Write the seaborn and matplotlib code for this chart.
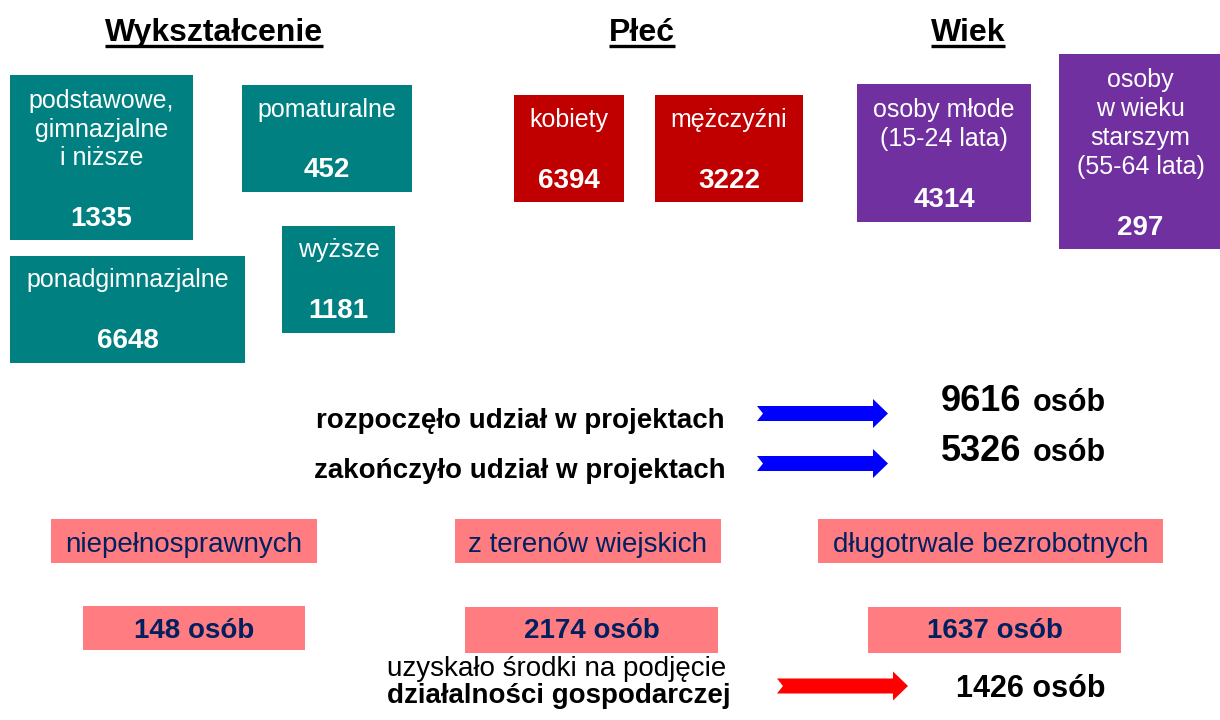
import matplotlib
matplotlib.use("Agg")
import matplotlib.pyplot as plt
import seaborn as sns
from matplotlib.patches import Rectangle, Polygon

# dane
edu_labels = [["podstawowe,", "gimnazjalne", "i niższe"], ["pomaturalne"],
              ["ponadgimnazjalne"], ["wyższe"]]
edu_values = [1335, 452, 6648, 1181]
sex_labels = [["kobiety"], ["mężczyźni"]]
sex_values = [6394, 3222]
age_labels = [["osoby młode", "(15-24 lata)"],
              ["osoby", "w wieku", "starszym", "(55-64 lata)"]]
age_values = [4314, 297]
group_labels = ["niepełnosprawnych", "z terenów wiejskich", "długotrwale bezrobotnych"]
group_values = [148, 2174, 1637]
flow_labels = ["rozpoczęło udział w projektach", "zakończyło udział w projektach"]
flow_values = [9616, 5326]
firm_value = 1426

sns.set_theme(style="white")
plt.rcParams['font.family'] = ['Liberation Sans', 'DejaVu Sans']

fig = plt.figure(figsize=(12.2, 7.2), dpi=100)
ax = fig.add_axes([0, 0, 1, 1])
ax.set_xlim(0, 1220)
ax.set_ylim(720, 0)
ax.axis("off")

TEAL, RED, PURPLE, PINK, NAVY = "#008080", "#C00000", "#7030A0", "#FF7C80", "#002060"

# nagłówki z podkreśleniem
titles = [("Wykształcenie", 214), ("Płeć", 642), ("Wiek", 968)]
fig.canvas.draw()
rend = fig.canvas.get_renderer()
for t, x in titles:
    txt = ax.text(x, 41, t, ha="center", va="baseline", fontsize=23,
                  fontweight="bold", color="black")
    bb = txt.get_window_extent(rend).transformed(ax.transData.inverted())
    ax.plot([bb.x0, bb.x1], [46, 46], color="black", lw=2.4, solid_capstyle="butt")


def box(rect, color, lines, first_base, step, value, value_base, size=18, vsize=20):
    x0, y0, x1, y1 = rect
    ax.add_patch(Rectangle((x0, y0), x1 - x0, y1 - y0, facecolor=color,
                           edgecolor="none"))
    cx = (x0 + x1) / 2
    for i, line in enumerate(lines):
        ax.text(cx, first_base + i * step, line, ha="center", va="baseline",
                fontsize=size, color="white")
    ax.text(cx, value_base, str(value), ha="center", va="baseline",
            fontsize=vsize, fontweight="bold", color="white")


# wykształcenie
edu_rects = [(10, 75, 193, 240), (242, 85, 412, 192), (10, 256, 245, 363), (282, 226, 395, 333)]
edu_base = [(108, 226), (117, 177), (287, 348), (257, 318)]
for r, lab, v, (b1, b2) in zip(edu_rects, edu_labels, edu_values, edu_base):
    box(r, TEAL, lab, b1, 28.5, v, b2)

# płeć
sex_rects = [(514, 95, 624, 202), (655, 95, 803, 202)]
for r, lab, v in zip(sex_rects, sex_labels, sex_values):
    box(r, RED, lab, 127, 28.5, v, 188)

# wiek
age_rects = [(857, 84, 1031, 222), (1059, 54, 1222, 249)]
age_base = [(117, 207), (87, 235)]
for r, lab, v, (b1, b2) in zip(age_rects, age_labels, age_values, age_base):
    box(r, PURPLE, lab, b1, 29, v, b2)


def arrow(x0, x1, yc, color):
    h, H, head, notch = 15, 29, 15, 6
    pts = [(x0, yc - h / 2), (x1 - head, yc - h / 2), (x1 - head, yc - H / 2),
           (x1, yc), (x1 - head, yc + H / 2), (x1 - head, yc + h / 2),
           (x0, yc + h / 2), (x0 + notch, yc)]
    ax.add_patch(Polygon(pts, closed=True, facecolor=color, edgecolor="none"))


# przepływ uczestników
for lab, v, base, yc in zip(flow_labels, flow_values, [428, 478], [413.5, 463.5]):
    ax.text(520, base, lab, ha="center", va="baseline", fontsize=20,
            fontweight="bold", color="black")
    arrow(757, 888, yc, "#0000FF")
    ax.text(1021, base - 17, str(v), ha="right", va="baseline", fontsize=26,
            fontweight="bold", color="black")
    ax.text(1033, base - 17, "osób", ha="left", va="baseline", fontsize=22,
            fontweight="bold", color="black")

# grupy
grp_rects = [(51, 519, 317, 563), (455, 519, 721, 563), (818, 519, 1163, 563)]
val_rects = [(83, 606, 305, 650), (465, 607, 718, 653), (868, 607, 1121, 653)]
for r, vr, lab, v in zip(grp_rects, val_rects, group_labels, group_values):
    x0, y0, x1, y1 = r
    ax.add_patch(Rectangle((x0, y0), x1 - x0, y1 - y0, facecolor=PINK, edgecolor="none"))
    ax.text((x0 + x1) / 2, 552, lab, ha="center", va="baseline", fontsize=20, color=NAVY)
    x0, y0, x1, y1 = vr
    ax.add_patch(Rectangle((x0, y0), x1 - x0, y1 - y0, facecolor=PINK, edgecolor="none"))
    ax.text((x0 + x1) / 2, 638, f"{v} osób", ha="center", va="baseline",
            fontsize=20, fontweight="bold", color=NAVY)

# działalność gospodarcza
ax.text(387, 676, "uzyskało środki na podjęcie", ha="left", va="baseline",
        fontsize=20, color="black")
ax.text(387, 703, "działalności gospodarczej", ha="left", va="baseline",
        fontsize=20, fontweight="bold", color="black")
arrow(777, 908, 686, "#FF0000")
ax.text(1031, 697, f"{firm_value} osób", ha="center", va="baseline",
        fontsize=22, fontweight="bold", color="black")

fig.savefig("out.png", dpi=100)
